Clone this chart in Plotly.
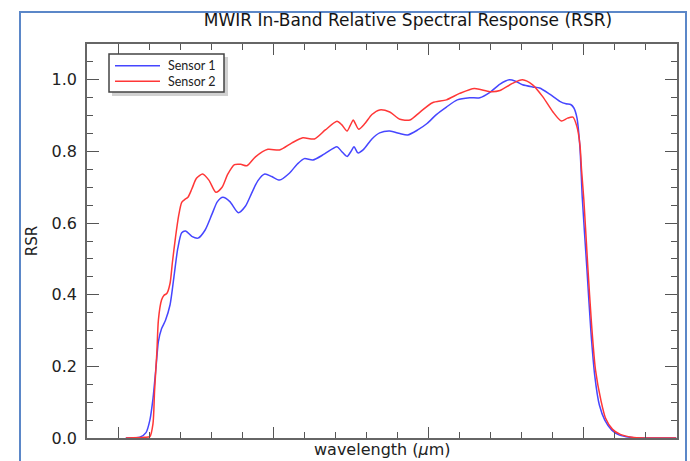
import plotly.graph_objects as go

# Wavelength samples (µm) and relative spectral response
s1_wl = [3.410, 3.428, 3.436, 3.441, 3.445, 3.449, 3.452, 3.456, 3.461, 3.467, 3.472, 3.477,
         3.482, 3.487, 3.495, 3.503, 3.512, 3.521, 3.528, 3.535, 3.544, 3.555, 3.564, 3.572,
         3.580, 3.589, 3.598, 3.608, 3.621, 3.631, 3.640, 3.651, 3.666, 3.682, 3.688, 3.695,
         3.700, 3.704, 3.709, 3.716, 3.727, 3.737, 3.750, 3.763, 3.773, 3.786, 3.798, 3.810,
         3.823, 3.837, 3.853, 3.866, 3.879, 3.892, 3.904, 3.912, 3.921, 3.934, 3.943, 3.956,
         3.969, 3.977, 3.983, 3.987, 3.991, 3.995, 3.998, 4.004, 4.009, 4.014, 4.020, 4.027,
         4.036, 4.046, 4.059, 4.072, 4.119]
s1_rsr = [0.000, 0.002, 0.015, 0.050, 0.110, 0.200, 0.270, 0.305, 0.328, 0.372, 0.450, 0.530,
          0.573, 0.578, 0.563, 0.558, 0.580, 0.625, 0.660, 0.672, 0.660, 0.629, 0.647, 0.683,
          0.718, 0.737, 0.730, 0.720, 0.740, 0.765, 0.780, 0.776, 0.793, 0.813, 0.800, 0.786,
          0.800, 0.813, 0.796, 0.805, 0.835, 0.852, 0.857, 0.850, 0.846, 0.860, 0.878, 0.903,
          0.924, 0.944, 0.950, 0.950, 0.965, 0.988, 1.000, 0.996, 0.986, 0.980, 0.977, 0.960,
          0.940, 0.933, 0.931, 0.922, 0.895, 0.810, 0.670, 0.470, 0.300, 0.175, 0.092, 0.050,
          0.022, 0.008, 0.002, 0.000, 0.000]

s2_wl = [3.410, 3.434, 3.441, 3.445, 3.447, 3.450, 3.452, 3.456, 3.459, 3.463, 3.467, 3.470,
         3.474, 3.478, 3.482, 3.486, 3.490, 3.495, 3.501, 3.509, 3.517, 3.526, 3.534, 3.541,
         3.550, 3.558, 3.566, 3.577, 3.593, 3.608, 3.624, 3.638, 3.653, 3.667, 3.682, 3.688,
         3.695, 3.699, 3.703, 3.706, 3.710, 3.718, 3.727, 3.737, 3.750, 3.763, 3.776, 3.789,
         3.805, 3.823, 3.840, 3.859, 3.879, 3.892, 3.908, 3.921, 3.934, 3.947, 3.960, 3.971,
         3.979, 3.986, 3.991, 3.995, 3.997, 4.000, 4.005, 4.010, 4.015, 4.022, 4.028, 4.037,
         4.047, 4.062, 4.078, 4.119]
s2_rsr = [0.000, 0.002, 0.004, 0.040, 0.130, 0.240, 0.330, 0.385, 0.398, 0.404, 0.432, 0.490,
          0.560, 0.620, 0.658, 0.666, 0.672, 0.695, 0.725, 0.737, 0.720, 0.686, 0.700, 0.735,
          0.763, 0.764, 0.760, 0.785, 0.806, 0.804, 0.824, 0.838, 0.835, 0.860, 0.884, 0.875,
          0.857, 0.872, 0.888, 0.876, 0.862, 0.878, 0.903, 0.916, 0.910, 0.890, 0.888, 0.910,
          0.936, 0.944, 0.962, 0.976, 0.967, 0.970, 0.990, 1.000, 0.986, 0.953, 0.911, 0.885,
          0.893, 0.896, 0.870, 0.818, 0.750, 0.665, 0.482, 0.315, 0.190, 0.105, 0.055, 0.024,
          0.010, 0.002, 0.000, 0.000]

series_names = ["Sensor 1", "Sensor 2"]
series_colors = ["rgb(70,70,255)", "rgb(255,55,55)"]

W, H = 690, 461
ML, MR, MT, MB = 87, 13, 44, 23
PW, PH = W - ML - MR, H - MT - MB


def px2x(px):
    return (px - ML) / PW


def py2y(py):
    return (H - MB - py) / PH


fig = go.Figure()
for name, wl, rsr, col in zip(series_names, [s1_wl, s2_wl], [s1_rsr, s2_rsr], series_colors):
    fig.add_trace(go.Scatter(x=wl, y=rsr, mode="lines", name=name, showlegend=False,
                             line=dict(color=col, width=1.5, shape="spline", smoothing=0.7)))

axis_common = dict(showline=True, linecolor="#666", linewidth=1.6, mirror="ticks",
                   ticks="inside", tickcolor="#555", tickwidth=1.3,
                   showgrid=False, zeroline=False)

# manual legend (box with drop shadow, sample lines, labels)
shapes = [
    dict(type="rect", xref="paper", yref="paper",
         x0=px2x(20), x1=px2x(686), y0=-0.2, y1=py2y(12),
         line=dict(color="#5b87c8", width=2), fillcolor="rgba(0,0,0,0)", layer="below"),
    dict(type="rect", xref="paper", yref="paper",
         x0=px2x(112), x1=px2x(228), y0=py2y(96), y1=py2y(57),
         line=dict(width=0), fillcolor="rgba(0,0,0,0.18)", layer="above"),
    dict(type="rect", xref="paper", yref="paper",
         x0=px2x(109), x1=px2x(224), y0=py2y(92), y1=py2y(54),
         line=dict(color="#444", width=1.5), fillcolor="white", layer="above"),
]
annotations = []
for i, (name, col) in enumerate(zip(series_names, series_colors)):
    yy = py2y(65.7 + 15.6 * i)
    shapes.append(dict(type="line", xref="paper", yref="paper",
                       x0=px2x(115), x1=px2x(160), y0=yy, y1=yy,
                       line=dict(color=col, width=1.5), layer="above"))
    annotations.append(dict(text=name, xref="paper", yref="paper", x=px2x(166), y=yy,
                            xanchor="left", yanchor="middle", showarrow=False,
                            font=dict(family="Lato", size=12.5, color="#222")))

annotations.append(dict(text="wavelength (<i>μ</i>m)", xref="paper", yref="paper",
                        x=0.5, y=py2y(449.5), xanchor="center", yanchor="middle",
                        showarrow=False,
                        font=dict(family="DejaVu Sans", size=16, color="#222")))

fig.update_layout(
    width=W, height=H,
    margin=dict(l=ML, r=MR, t=MT, b=MB),
    paper_bgcolor="white", plot_bgcolor="white",
    font=dict(family="DejaVu Sans", size=16, color="#222"),
    showlegend=False,
    title=dict(text="MWIR In-Band Relative Spectral Response (RSR)",
               x=408 / W, xref="container", xanchor="center",
               y=1 - 20 / H, yref="container", yanchor="middle",
               font=dict(family="DejaVu Sans", size=17, color="#151515")),
    xaxis=dict(range=[3.36, 4.12], tick0=3.4, dtick=0.2, ticklen=11,
               showticklabels=False,
               minor=dict(ticks="inside", ticklen=6, dtick=0.04, tick0=3.4,
                          tickcolor="#555", tickwidth=1.2, showgrid=False),
               **axis_common),
    yaxis=dict(range=[0, 1.1], tick0=0, dtick=0.2, ticklen=12, tickformat=".1f",
               ticklabelstandoff=5,
               tickfont=dict(family="DejaVu Sans", size=16, color="#222"),
               minor=dict(ticks="inside", ticklen=6, dtick=0.05, tick0=0,
                          tickcolor="#555", tickwidth=1.2, showgrid=False),
               title=dict(text="RSR", standoff=10,
                          font=dict(family="DejaVu Sans", size=15, color="#222")),
               **axis_common),
    shapes=shapes,
    annotations=annotations,
)

fig.write_html("out.html")
